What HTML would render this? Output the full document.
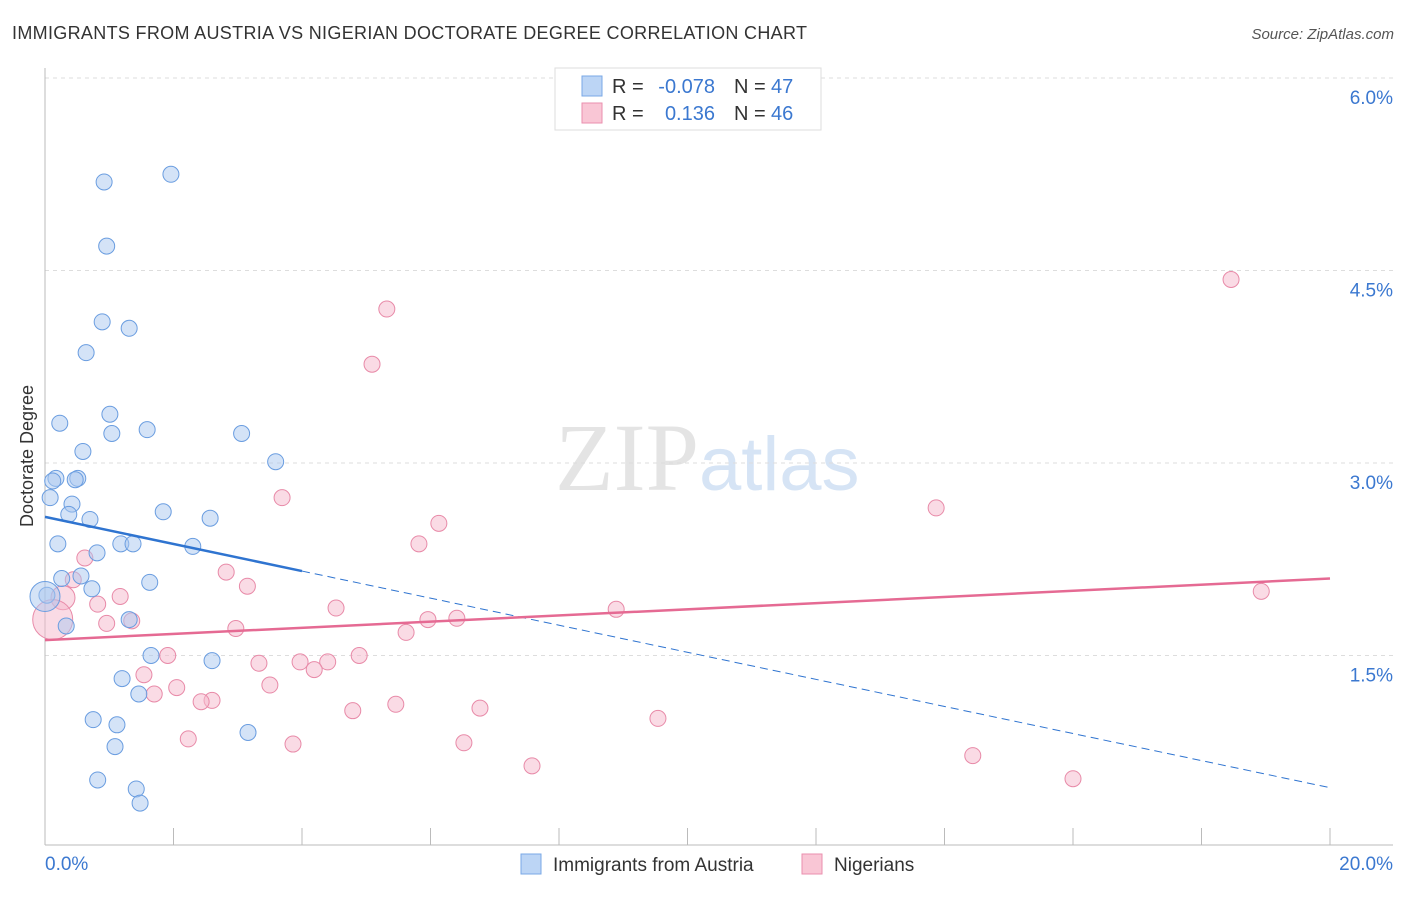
<!DOCTYPE html>
<html><head><meta charset="utf-8"><style>
body{margin:0;background:#fff;font-family:"Liberation Sans",sans-serif}
</style></head><body>
<svg id="chart" width="1406" height="892" xmlns="http://www.w3.org/2000/svg" font-family="Liberation Sans, sans-serif">
<text x="12" y="39" font-size="18" fill="#333" textLength="795">IMMIGRANTS FROM AUSTRIA VS NIGERIAN DOCTORATE DEGREE CORRELATION CHART</text>
<text x="1394" y="39" font-size="15" fill="#555" text-anchor="end" font-style="italic">Source: ZipAtlas.com</text>
<text x="555" y="490" font-size="96" fill="#e4e4e4" font-family="Liberation Serif, serif">ZIP<tspan fill="#d6e4f5" font-family="Liberation Sans, sans-serif" font-size="76">atlas</tspan></text>
<g id="grid"></g><g id="marks"></g>
<text transform="translate(33,456) rotate(-90)" font-size="18" fill="#333" text-anchor="middle">Doctorate Degree</text>
<g>
<rect x="555" y="68" width="266" height="62" fill="#fff" stroke="#ddd"/>
<rect x="582" y="76" width="20" height="20" fill="#bcd5f5" stroke="#7aa8e6"/>
<rect x="582" y="103" width="20" height="20" fill="#f9c6d5" stroke="#ea8fae"/>
<text x="612" y="93" font-size="20" fill="#333">R =</text>
<text x="715" y="93" font-size="20" fill="#3b78d0" text-anchor="end">-0.078</text>
<text x="734" y="93" font-size="20" fill="#333">N =</text>
<text x="771" y="93" font-size="20" fill="#3b78d0">47</text>
<text x="612" y="120" font-size="20" fill="#333">R =</text>
<text x="715" y="120" font-size="20" fill="#3b78d0" text-anchor="end">0.136</text>
<text x="734" y="120" font-size="20" fill="#333">N =</text>
<text x="771" y="120" font-size="20" fill="#3b78d0">46</text>
</g>
<g>
<rect x="521" y="854" width="20" height="20" fill="#bcd5f5" stroke="#7aa8e6"/>
<text x="553" y="871" font-size="19" fill="#333">Immigrants from Austria</text>
<rect x="802" y="854" width="20" height="20" fill="#f9c6d5" stroke="#ea8fae"/>
<text x="834" y="871" font-size="19" fill="#333">Nigerians</text>
</g>
</svg>
<script>
const yTicks=[1.5,3.0,4.5,6.0];
const yTickLabels=["1.5%","3.0%","4.5%","6.0%"];
const xTickVals=[0,2,4,6,8,10,12,14,16,18,20];
const blueX=[0.92,1.96,0.96,0.89,1.31,0.64,1.01,0.23,1.59,1.04,3.06,0.59,3.59,0.17,0.12,0.51,0.47,0.08,0.42,0.37,0.7,1.84,2.57,0.2,1.18,1.37,2.3,0.81,0.26,0.56,1.63,0.73,0.03,0.33,1.31,1.65,2.6,1.2,1.46,0.75,1.12,1.09,3.16,0.82,1.42,1.48,0.0];
const blueY=[5.19,5.25,4.69,4.1,4.05,3.86,3.38,3.31,3.26,3.23,3.23,3.09,3.01,2.88,2.86,2.88,2.87,2.73,2.68,2.6,2.56,2.62,2.57,2.37,2.37,2.37,2.35,2.3,2.1,2.12,2.07,2.02,1.97,1.73,1.78,1.5,1.46,1.32,1.2,1.0,0.96,0.79,0.9,0.53,0.46,0.35,1.96];
const pinkX=[18.46,5.32,5.09,3.69,13.87,6.13,5.82,0.62,2.82,0.44,3.15,1.17,4.53,0.82,8.89,0.28,5.96,6.41,1.35,0.96,2.97,5.62,0.12,1.91,4.89,4.4,3.33,3.97,4.19,1.54,3.5,2.05,1.7,2.6,2.43,5.46,6.77,4.79,9.54,2.23,3.86,6.52,14.44,7.58,16.0,18.93];
const pinkY=[4.43,4.2,3.77,2.73,2.65,2.53,2.37,2.26,2.15,2.09,2.04,1.96,1.87,1.9,1.86,1.95,1.78,1.79,1.77,1.75,1.71,1.68,1.78,1.5,1.5,1.45,1.44,1.45,1.39,1.35,1.27,1.25,1.2,1.15,1.14,1.12,1.09,1.07,1.01,0.85,0.81,0.82,0.72,0.64,0.54,2.0];
const blueTrend=[2.58,0.47];
const pinkTrend=[1.62,2.10];
const X0=45,X1=1330,Y0=848,PX=128.33;
const xs=v=>X0+(v/20)*(X1-X0);
const ys=v=>Y0-v*PX;
const NS="http://www.w3.org/2000/svg";
function mk(t,a,p){const e=document.createElementNS(NS,t);for(const k in a)e.setAttribute(k,a[k]);p.appendChild(e);return e;}
const g=document.getElementById('grid'),m=document.getElementById('marks');
yTicks.forEach((v,i)=>{
 const l=mk('line',{x1:X0,x2:1393,y1:ys(v),y2:ys(v),stroke:'#ddd','stroke-dasharray':'4,4'},g);
 
 
 const t=mk('text',{x:1393,y:ys(v)+26,'font-size':19,fill:'#3b78d0','text-anchor':'end'},g);t.textContent=yTickLabels[i];
 
 
});
const ax=mk('line',{x1:X0,x2:1393,y1:845,y2:845,stroke:'#bbb'},g);


const ay=mk('line',{x1:X0,x2:X0,y1:68,y2:845,stroke:'#bbb'},g);


xTickVals.forEach(v=>{const t=mk('line',{x1:xs(v),x2:xs(v),y1:828,y2:845,stroke:'#bbb'},g);
 
 });
[[0,"0.0%","start",45],[20,"20.0%","end",1393]].forEach(d=>{const t=mk('text',{x:d[3],y:870,'font-size':19,fill:'#3b78d0','text-anchor':d[2]},g);t.textContent=d[1];
 
 });
function dots(X,Y,fill,stroke,name,big){X.forEach((x,i)=>{const r=big[i]||8;
 const c=mk('circle',{cx:xs(x),cy:ys(Y[i]),r:r,fill:fill,'fill-opacity':0.5,stroke:stroke,'stroke-width':1},m);
 
 });}
dots(pinkX,pinkY,'#f5b8cb','#e88aa8','nigerian-point',{22:20,15:12});
dots(blueX,blueY,'#a9c8f0','#6a9de0','austria-point',{46:15});
const bxEnd=4.0,by=v=>blueTrend[0]+(blueTrend[1]-blueTrend[0])*v/20;
const b1=mk('line',{x1:xs(0),y1:ys(by(0)),x2:xs(bxEnd),y2:ys(by(bxEnd)),stroke:'#2f74d0','stroke-width':2.5},m);


const b2=mk('line',{x1:xs(bxEnd),y1:ys(by(bxEnd)),x2:xs(20),y2:ys(by(20)),stroke:'#2f74d0','stroke-width':1,'stroke-dasharray':'8,5'},m);


const p=mk('line',{x1:xs(0),y1:ys(pinkTrend[0]),x2:xs(20),y2:ys(pinkTrend[1]),stroke:'#e56a93','stroke-width':2.5},m);


</script>
</body></html>
